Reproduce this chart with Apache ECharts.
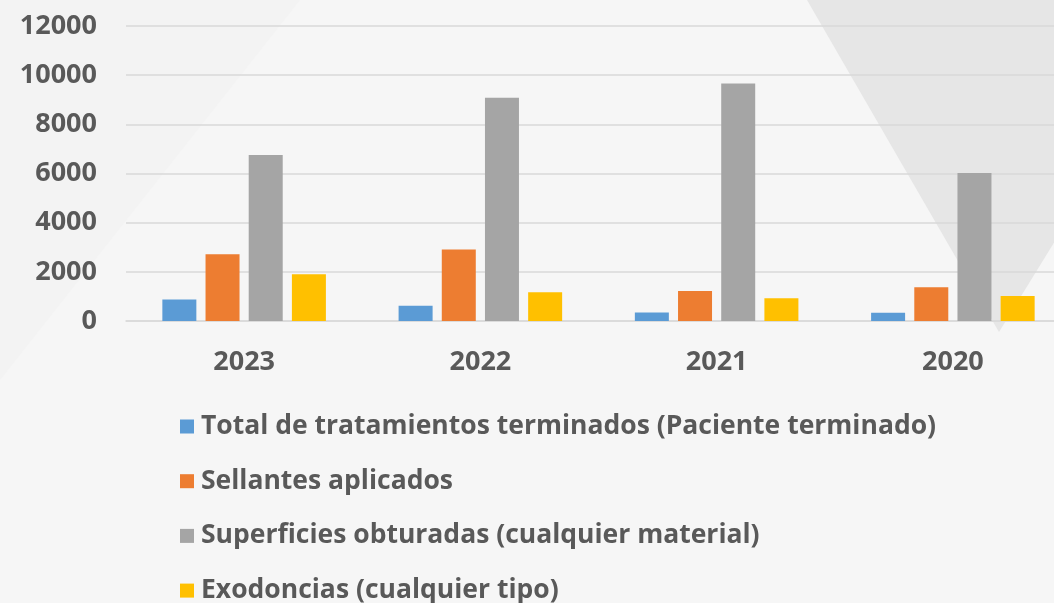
<!DOCTYPE html>
<html><head><meta charset="utf-8">
<script src="https://cdn.jsdelivr.net/npm/echarts@6/dist/echarts.min.js"></script>
<style>html,body{margin:0;padding:0;background:#f6f6f6;overflow:hidden}#c{width:1071px;height:603px}</style>
</head><body><div id="c"></div>
<script>
const categories = ['2023', '2022', '2021', '2020'];
const seriesNames = ['Total de tratamientos terminados (Paciente terminado)', 'Sellantes aplicados', 'Superficies obturadas (cualquier material)', 'Exodoncias (cualquier tipo)'];
const totalTratamientos = [870, 620, 350, 340];
const sellantes = [2720, 2910, 1220, 1370];
const superficies = [6750, 9080, 9660, 6020];
const exodoncias = [1900, 1170, 930, 1020];
const colors = ['#5B9BD5', '#ED7D31', '#A5A5A5', '#FFC000'];
const yTicks = { min: 0, max: 12000, interval: 2000 };

const chart = echarts.init(document.getElementById('c'));
const values = [totalTratamientos, sellantes, superficies, exodoncias];
const font = '"Open Sans", Lato, sans-serif';
chart.setOption({
  backgroundColor: '#f6f6f6',
  animation: false,
  graphic: [
    { type: 'polygon', z: -10, silent: true, shape: { points: [[0,0],[300,0],[0,380]] }, style: { fill: '#f3f3f3' } },
    { type: 'polygon', z: -10, silent: true, shape: { points: [[807,0],[1071,0],[1071,215],[999,332]] }, style: { fill: '#e6e6e6' } }
  ],
  textStyle: { fontFamily: font },
  grid: { left: 126, right: 0, top: 26, height: 295 },
  legend: {
    orient: 'vertical', left: 175, top: 408, itemGap: 27.7, height: 220, width: 880,
    itemWidth: 14, itemHeight: 14, icon: 'rect',
    textStyle: { fontFamily: font, fontWeight: 'bold', fontSize: 26.5, color: '#595959', padding: [0,0,0,2] },
    data: seriesNames
  },
  xAxis: {
    type: 'category', data: categories,
    axisLine: { lineStyle: { color: '#d9d9d9', width: 1.5 } },
    axisTick: { show: false },
    axisLabel: { fontFamily: font, fontWeight: 'bold', fontSize: 27, color: '#595959', margin: 28 }
  },
  yAxis: {
    type: 'value', min: yTicks.min, max: yTicks.max, interval: yTicks.interval,
    axisLine: { show: false }, axisTick: { show: false },
    splitLine: { lineStyle: { color: '#d9d9d9', width: 1.5 } },
    axisLabel: { fontFamily: font, fontWeight: 'bold', fontSize: 27, color: '#595959', margin: 29, formatter: v => String(v) }
  },
  series: seriesNames.map((n, i) => ({
    name: n, type: 'bar', data: values[i], barWidth: 34, barGap: '27%',
    itemStyle: { color: colors[i] }
  }))
});
</script></body></html>
